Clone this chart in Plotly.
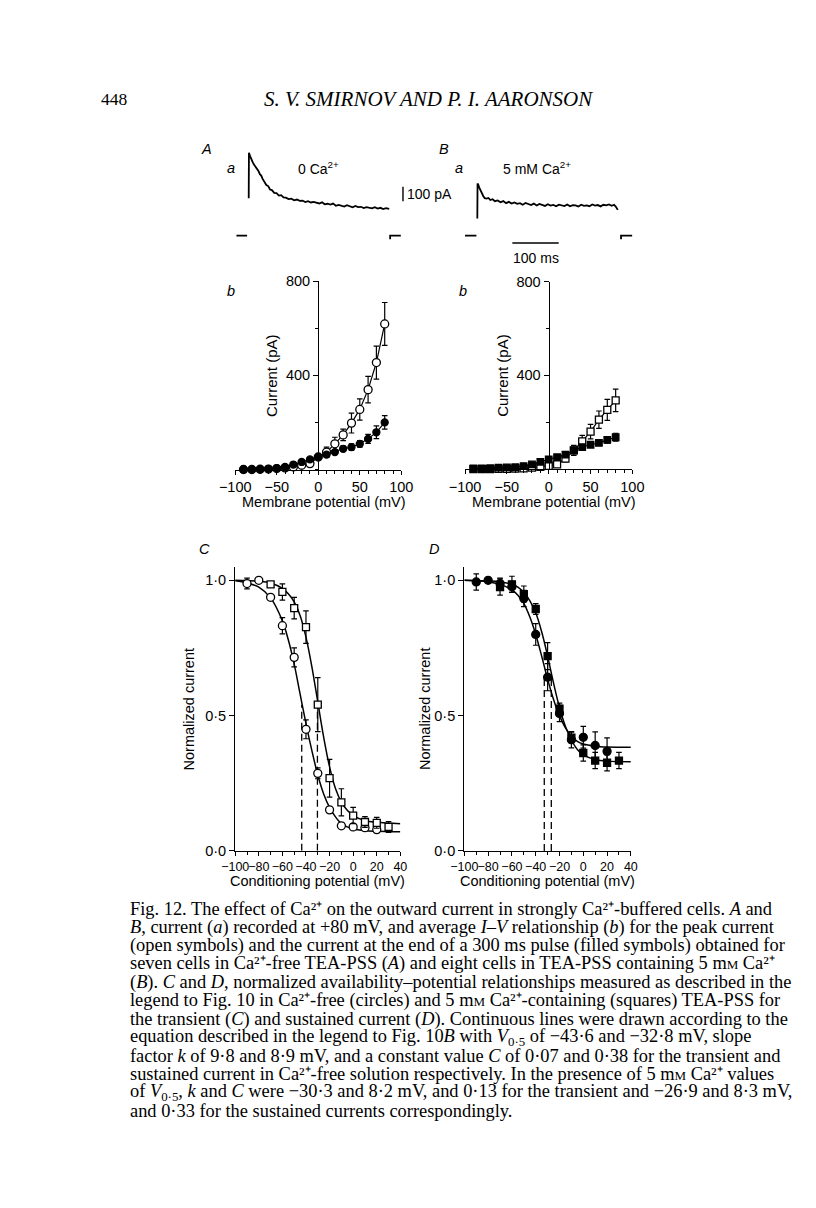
import plotly.graph_objects as go

W, H = 816, 1208
def px(x): return x / W
def py(y): return 1 - y / H

# ---------------- data ----------------
# A(a): current trace at +80 mV, 0 Ca (time ms, current pA)
trace_a_t = [0, 0.5, 3, 6, 9, 12, 15, 18, 21, 24, 27, 30, 34, 38, 42, 46, 50, 55, 60, 65, 70, 75, 80, 86, 92, 98,
             104, 110, 116, 122, 128, 134, 140, 146, 152, 158, 164, 170, 176, 182, 188, 194, 200, 206, 212, 218,
             224, 230, 236, 242, 248, 254, 260, 266, 272, 278, 284, 290, 296, 303]
trace_a_i = [258, 571, 548, 520, 503, 487, 474, 455, 446, 424, 414, 391, 372, 349, 342, 318, 314, 295, 293, 276,
             279, 264, 262, 252, 255, 244, 249, 240, 242, 232, 238, 229, 233, 225, 222, 230, 216, 220, 214, 221,
             206, 212, 208, 201, 210, 203, 196, 205, 197, 199, 190, 197, 193, 188, 196, 187, 192, 183, 190, 185]
hold_a_t = [-26.5, -3.5]
hold_a_i = [0, 0]
tail_a_t = [305, 305, 328]
tail_a_i = [-25, 0, 0]

# B(a): current trace at +80 mV, 5 mM Ca
trace_b_t = [0, 0.5, 2, 4, 6, 8, 10, 13, 16, 20, 24, 28, 33, 38, 44, 50, 56, 62, 68, 74, 80, 86, 92, 98, 104, 110,
             116, 122, 128, 134, 140, 146, 152, 158, 164, 170, 176, 182, 188, 194, 200, 206, 212, 218, 224, 230,
             236, 242, 248, 254, 260, 266, 272, 278, 284, 290, 295, 299, 303]
trace_b_i = [118, 360, 352, 333, 318, 302, 284, 272, 259, 256, 260, 246, 251, 238, 243, 230, 238, 224, 233, 221,
             229, 219, 224, 213, 225, 217, 211, 221, 208, 219, 213, 205, 217, 207, 212, 203, 214, 209, 204, 215,
             203, 211, 209, 201, 213, 205, 209, 203, 215, 207, 211, 202, 213, 209, 215, 206, 213, 199, 178]
hold_b_t = [-26.5, -2]
hold_b_i = [0, 0]
tail_b_t = [310, 310, 334]
tail_b_i = [-25, 0, 0]

# scale bars
bar_pa_t = [332.7, 332.7]
bar_pa_i = [238, 338]
bar_ms_t = [75.6, 175.6]
bar_ms_i = [-50, -50]

# I-V relationships (mV, pA)
iv_v = [-90, -80, -70, -60, -50, -40, -30, -20, -10, 0, 10, 20, 30, 40, 50, 60, 70, 80]
a_peak = [0, 0, 1, 2, 4, 7, 11, 18, 25, 53, 74, 109, 147, 197, 255, 339, 454, 618]
a_peak_err = [0, 0, 0, 0, 0, 0, 3, 5, 6, 8, 21, 28, 24, 42, 45, 56, 70, 91]
a_end = [0, 0, 1, 3, 6, 11, 21, 32, 43, 53, 63, 74, 88, 95, 109, 130, 158, 200]
a_end_err = [0, 0, 0, 0, 0, 3, 4, 5, 5, 6, 8, 10, 11, 14, 14, 19, 27, 29]
b_peak = [0, 0, 0, 1, 1, 2, 3, 6, 10, 14, 20, 45, 80, 118, 160, 211, 253, 293]
b_peak_err = [0, 0, 0, 0, 0, 0, 0, 3, 4, 5, 8, 14, 21, 26, 31, 37, 45, 48]
b_end = [3, 3, 4, 6, 7, 8, 13, 20, 31, 41, 51, 62, 80, 94, 104, 112, 125, 136]
b_end_err = [0, 0, 0, 0, 0, 0, 3, 4, 5, 6, 7, 10, 12, 11, 11, 11, 14, 17]

# C: transient availability
c_circ_v = [-90, -80, -70, -60, -50, -40, -30, -20, -10, 0, 10, 20]
c_circ = [0.988, 1.0, 0.937, 0.832, 0.715, 0.449, 0.286, 0.151, 0.092, 0.088, 0.085, 0.078]
c_circ_err = [0.02, 0, 0.01, 0.03, 0.035, 0.035, 0.02, 0.01, 0, 0, 0, 0]
c_sq_v = [-70, -60, -50, -40, -30, -20, -10, 0, 10, 20, 30]
c_sq = [0.985, 0.957, 0.897, 0.827, 0.54, 0.268, 0.179, 0.13, 0.106, 0.103, 0.088]
c_sq_err = [0.01, 0.03, 0.04, 0.06, 0.1, 0.07, 0.05, 0.03, 0.02, 0.02, 0.02]
fit_v = [-100, -90, -80, -70, -60, -55, -50, -45, -40, -35, -30, -25, -20, -15, -10, -5, 0, 10, 20, 40]
c_circ_fit = [0.998, 0.99, 0.975, 0.935, 0.85, 0.78, 0.69, 0.58, 0.47, 0.37, 0.28, 0.21, 0.16, 0.125, 0.10,
              0.088, 0.08, 0.074, 0.072, 0.07]
c_sq_fit = [1.0, 0.999, 0.997, 0.99, 0.97, 0.95, 0.92, 0.87, 0.79, 0.68, 0.55, 0.42, 0.31, 0.23, 0.18, 0.15,
            0.13, 0.112, 0.105, 0.1]
c_vhalf = [-43.6, -30.3]
c_vhalf_top = [0.54, 0.55]

# D: sustained availability
d_circ_v = [-90, -80, -70, -60, -50, -40, -30, -20, -10, 0, 10, 20]
d_circ = [0.994, 1.0, 0.988, 0.976, 0.933, 0.80, 0.642, 0.508, 0.411, 0.42, 0.39, 0.368]
d_circ_err = [0.03, 0, 0.02, 0.02, 0.03, 0.04, 0.05, 0.03, 0.03, 0.04, 0.05, 0.05]
d_sq_v = [-70, -60, -50, -40, -30, -20, -10, 0, 10, 20, 30]
d_sq = [0.975, 0.985, 0.949, 0.894, 0.72, 0.526, 0.419, 0.362, 0.334, 0.326, 0.334]
d_sq_err = [0.03, 0.03, 0.03, 0.02, 0.05, 0.02, 0.02, 0.03, 0.03, 0.03, 0.03]
d_circ_fit = [1.0, 0.998, 0.995, 0.985, 0.965, 0.945, 0.915, 0.865, 0.8, 0.72, 0.635, 0.56, 0.5, 0.455, 0.425,
              0.405, 0.395, 0.387, 0.384, 0.383]
d_sq_fit = [1.0, 0.999, 0.998, 0.995, 0.985, 0.975, 0.955, 0.925, 0.88, 0.81, 0.72, 0.62, 0.53, 0.46, 0.41,
            0.375, 0.355, 0.338, 0.332, 0.33]
d_vhalf = [-32.8, -26.9]
d_vhalf_top = [0.64, 0.64]

iv_ticks = [-100, -50, 0, 50, 100]
iv_ticktext = ["\u2212100", "\u221250", "0", "50", "100"]
cd_ticks = [-100, -80, -60, -40, -20, 0, 20, 40]
cd_ticktext = ["\u2212100", "\u221280", "\u221260", "\u221240", "\u221220", "0", "20", "40"]
cd_yticks = [0, 0.5, 1.0]
cd_yticktext = ["0\u00b70", "0\u00b75", "1\u00b70"]

# ---------------- figure ----------------
SANS = "Liberation Sans, Arial, sans-serif"
SERIF = "Liberation Serif, Times New Roman, serif"
K = "black"
fig = go.Figure()

def line(x, y, xa, ya, width=1.4, dash=None, shape="linear"):
    fig.add_trace(go.Scatter(x=x, y=y, mode="lines", xaxis=xa, yaxis=ya, showlegend=False,
                             line=dict(color=K, width=width, dash=dash, shape=shape), hoverinfo="skip",
                             cliponaxis=False))

def pts(x, y, err, xa, ya, symbol, filled, connect=False, size=7):
    fig.add_trace(go.Scatter(
        x=x, y=y, xaxis=xa, yaxis=ya, showlegend=False, cliponaxis=False,
        mode="lines+markers" if connect else "markers",
        line=dict(color=K, width=1.2),
        marker=dict(symbol=symbol, size=size, color=K if filled else "white", line=dict(color=K, width=1.3)),
        error_y=dict(type="data", array=err, visible=True, color=K, thickness=1.2, width=2.8)))

# traces
line(trace_a_t, trace_a_i, "x", "y", 1.8)
line(hold_a_t, hold_a_i, "x", "y", 1.8)
line(tail_a_t, tail_a_i, "x", "y", 1.8)
line(bar_pa_t, bar_pa_i, "x", "y", 1.4)
line(trace_b_t, trace_b_i, "x2", "y2", 1.8)
line(hold_b_t, hold_b_i, "x2", "y2", 1.8)
line(tail_b_t, tail_b_i, "x2", "y2", 1.8)
line(bar_ms_t, bar_ms_i, "x2", "y2", 1.4)

# I-V (open drawn first, filled on top)
pts(iv_v, a_peak, a_peak_err, "x3", "y3", "circle", False, True, 8)
pts(iv_v, a_end, a_end_err, "x3", "y3", "circle", True, True, 7)
pts(iv_v, b_peak, b_peak_err, "x4", "y4", "square", False, True, 7)
pts(iv_v, b_end, b_end_err, "x4", "y4", "square", True, True, 6.5)

# C
line(fit_v, c_circ_fit, "x5", "y5", 1.5, shape="spline")
line(fit_v, c_sq_fit, "x5", "y5", 1.5, shape="spline")
for v, top in zip(c_vhalf, c_vhalf_top):
    line([v, v], [0, top], "x5", "y5", 1.3, dash="7px,4px")
pts(c_circ_v, c_circ, c_circ_err, "x5", "y5", "circle", False, False, 8)
pts(c_sq_v, c_sq, c_sq_err, "x5", "y5", "square", False, False, 7)

# D
line(fit_v, d_circ_fit, "x6", "y6", 1.5, shape="spline")
line(fit_v, d_sq_fit, "x6", "y6", 1.5, shape="spline")
for v, top in zip(d_vhalf, d_vhalf_top):
    line([v, v], [0, top], "x6", "y6", 1.3, dash="7px,4px")
pts(d_circ_v, d_circ, d_circ_err, "x6", "y6", "circle", True, False, 8)
pts(d_sq_v, d_sq, d_sq_err, "x6", "y6", "square", True, False, 7)

hidden = dict(visible=False, showgrid=False, zeroline=False)
tickfont = dict(family=SANS, size=14.5, color=K)

def xaxis_iv(dom, anchor):
    return dict(domain=dom, range=[-100, 100], anchor=anchor, showline=True, linecolor=K, linewidth=1.4,
                ticks="outside", ticklen=4, tickcolor=K, tickwidth=1.3, tickvals=iv_ticks, ticktext=iv_ticktext,
                tickangle=0, tickfont=tickfont, showgrid=False, zeroline=False,
                minor=dict(ticks="outside", dtick=10, tick0=0, ticklen=3, tickcolor=K, showgrid=False))

def yaxis_iv(dom, pos):
    return dict(domain=dom, range=[0, 800], anchor="free", position=pos, showline=True, linecolor=K,
                linewidth=1.4, ticks="outside", ticklen=5, tickcolor=K, tickwidth=1.3, tickvals=[400, 800],
                ticktext=["400", "800"], tickfont=tickfont, showgrid=False, zeroline=False,
                minor=dict(ticks="outside", dtick=200, tick0=0, ticklen=3, tickcolor=K, showgrid=False))

def xaxis_cd(dom, anchor):
    return dict(domain=dom, range=[-100, 40], anchor=anchor, showline=True, linecolor=K, linewidth=1.4,
                ticks="outside", ticklen=4, tickcolor=K, tickwidth=1.3, tickvals=cd_ticks, ticktext=cd_ticktext,
                tickangle=0, tickfont=dict(family=SANS, size=12.5, color=K), showgrid=False, zeroline=False,
                minor=dict(ticks="outside", dtick=10, tick0=0, ticklen=3, tickcolor=K, showgrid=False))

def yaxis_cd(dom, anchor):
    return dict(domain=dom, range=[0, 1.051], anchor=anchor, showline=True, linecolor=K, linewidth=1.4,
                ticks="outside", ticklen=5, tickcolor=K, tickwidth=1.3, tickvals=cd_yticks,
                ticktext=cd_yticktext, tickfont=tickfont, showgrid=False, zeroline=False)

fig.update_layout(
    width=W, height=H, margin=dict(l=0, r=0, t=0, b=0), paper_bgcolor="white", plot_bgcolor="rgba(0,0,0,0)",
    showlegend=False,
    xaxis=dict(domain=[px(220), px(410)], range=[-43.7, 352], anchor="y", **hidden),
    yaxis=dict(domain=[py(240), py(140)], range=[-63, 617], anchor="x", **hidden),
    xaxis2=dict(domain=[px(455), px(645)], range=[-47.3, 348.5], anchor="y2", **hidden),
    yaxis2=dict(domain=[py(240), py(140)], range=[-63, 617], anchor="x2", **hidden),
    xaxis3=xaxis_iv([px(227), px(399)], "y3"),
    yaxis3=yaxis_iv([py(467.7), py(276.7)], px(313)),
    xaxis4=xaxis_iv([px(465), px(638.3)], "y4"),
    yaxis4=yaxis_iv([py(467.3), py(277.3)], px(551.7)),
    xaxis5=xaxis_cd([px(227), px(398)], "y5"),
    yaxis5=yaxis_cd([py(854), py(566)], "x5"),
    xaxis6=xaxis_cd([px(464.3), px(636.7)], "y6"),
    yaxis6=yaxis_cd([py(854.3), py(566)], "x6"),
)

ann = []
def text(x, y, s, size=14, family=SANS, anchor="center", angle=0, color=K):
    ann.append(dict(x=px(x), y=py(y), xref="paper", yref="paper", text=s, showarrow=False,
                    xanchor=anchor, yanchor="middle", textangle=angle,
                    font=dict(family=family, size=size, color=color)))

# header
text(86, 92, "448", 17.5, SERIF, anchor="left")
text(427, 92, "<i>S. V. SMIRNOV AND P. I. AARONSON</i>", 21, SERIF)

# panel labels & trace labels
text(197, 143, "<i>A</i>", 14.5)
text(223, 162, "<i>a</i>", 14.5)
text(313, 162, "0 Ca<sup>2+</sup>", 14)
text(443, 143, "<i>B</i>", 14.5)
text(459, 162, "<i>a</i>", 14.5)
text(540, 162, "5 mM Ca<sup>2+</sup>", 14)
text(403, 188, "100 pA", 14, anchor="left")
text(538, 253, "100 ms", 14)
text(223, 287, "<i>b</i>", 14.5)
text(463, 287, "<i>b</i>", 14.5)
text(195, 548, "<i>C</i>", 14.5)
text(433, 548, "<i>D</i>", 14.5)

# axis titles
text(264, 372, "Current (pA)", 15, angle=-90)
text(503, 372, "Current (pA)", 15, angle=-90)
text(319, 501, "Membrane potential (mV)", 14.5)
text(557, 501, "Membrane potential (mV)", 14.5)
text(179, 710, "Normalized current", 14.5, angle=-90)
text(423, 710, "Normalized current", 14.5, angle=-90)
text(312, 885, "Conditioning potential (mV)", 14.5)
text(550, 885, "Conditioning potential (mV)", 14.5)

# caption
ca = "Ca\u00b2\u207a"
mM = "m<span style='font-size:13px'>M</span>"
v05 = "<i>V</i><sub>0\u00b75</sub>"
caption = [
    f"Fig. 12. The effect of {ca} on the outward current in strongly {ca}-buffered cells. <i>A</i> and",
    "<i>B</i>, current (<i>a</i>) recorded at +80 mV, and average <i>I\u2013V</i> relationship (<i>b</i>) for the peak current",
    "(open symbols) and the current at the end of a 300 ms pulse (filled symbols) obtained for",
    f"seven cells in {ca}-free TEA-PSS (<i>A</i>) and eight cells in TEA-PSS containing 5 {mM} {ca}",
    "(<i>B</i>). <i>C</i> and <i>D</i>, normalized availability\u2013potential relationships measured as described in the",
    f"legend to Fig. 10 in {ca}-free (circles) and 5 {mM} {ca}-containing (squares) TEA-PSS for",
    "the transient (<i>C</i>) and sustained current (<i>D</i>). Continuous lines were drawn according to the",
    f"equation described in the legend to Fig. 10<i>B</i> with {v05} of \u221243\u00b76 and \u221232\u00b78 mV, slope",
    "factor <i>k</i> of 9\u00b78 and 8\u00b79 mV, and a constant value <i>C</i> of 0\u00b707 and 0\u00b738 for the transient and",
    f"sustained current in {ca}-free solution respectively. In the presence of 5 {mM} {ca} values",
    f"of {v05}, <i>k</i> and <i>C</i> were \u221230\u00b73 and 8\u00b72 mV, and 0\u00b713 for the transient and \u221226\u00b79 and 8\u00b73 mV,",
    "and 0\u00b733 for the sustained currents correspondingly.",
]
for i, s in enumerate(caption):
    text(116, 913 + i * 18.6, s, 18.4, SERIF, anchor="left")

fig.update_layout(annotations=ann)
fig.write_html("out.html", config={"displayModeBar": False},
               post_script="document.body.style.margin='0px';")
